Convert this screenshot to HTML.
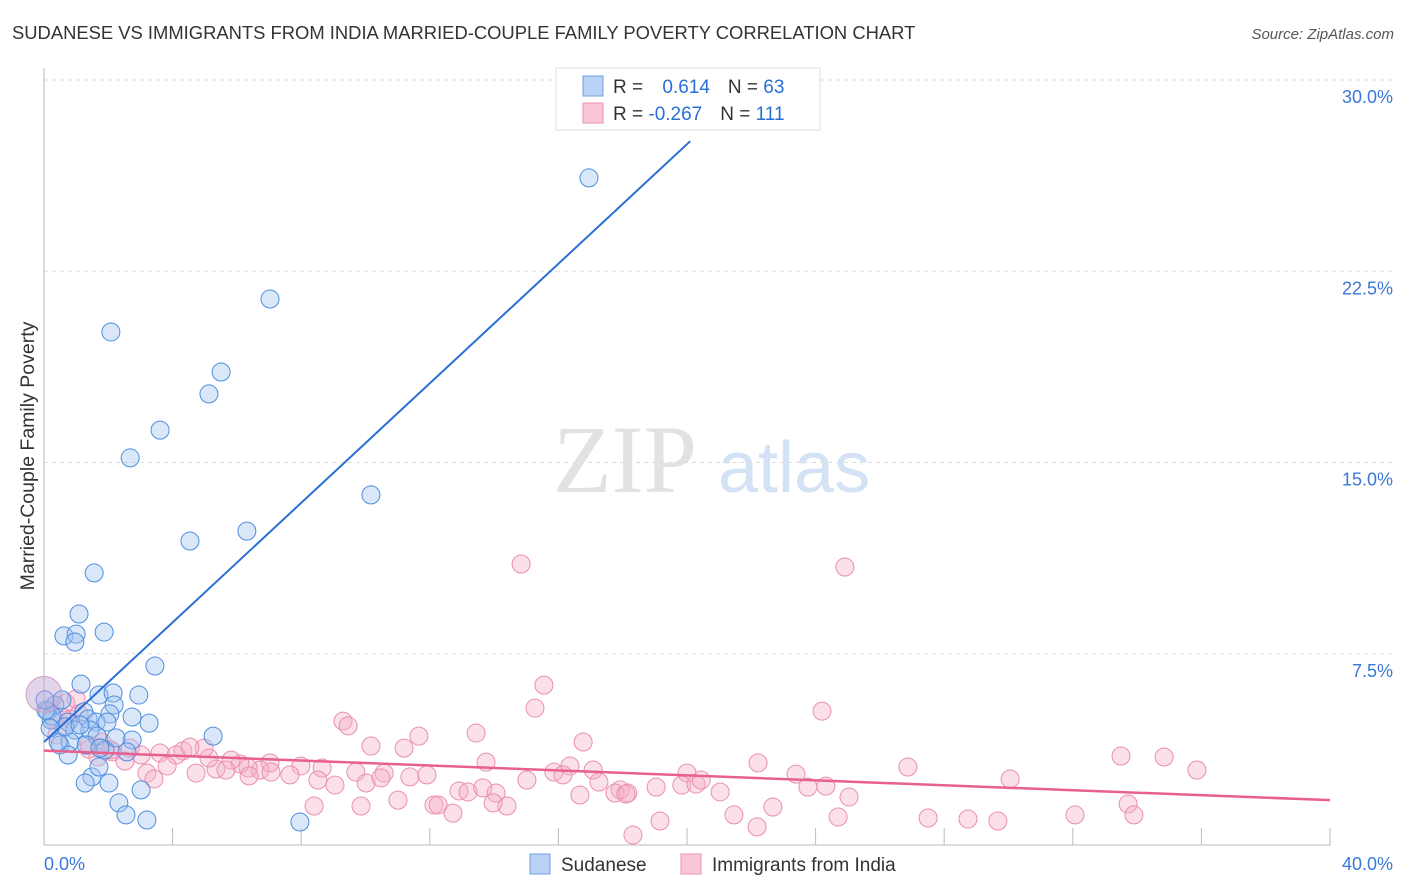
<!DOCTYPE html>
<html><head><meta charset="utf-8"><style>
body{margin:0;background:#fff;font-family:"Liberation Sans",sans-serif;}
svg{display:block}
</style></head><body>
<svg id="chart" width="1406" height="892">
<text x="12" y="39" font-size="18.4" fill="#333">SUDANESE VS IMMIGRANTS FROM INDIA MARRIED-COUPLE FAMILY POVERTY CORRELATION CHART</text>
<text x="1394" y="39" font-size="15" fill="#555" font-style="italic" text-anchor="end">Source: ZipAtlas.com</text>
<text x="34" y="456" font-size="19.5" fill="#333" text-anchor="middle" transform="rotate(-90 34 456)">Married-Couple Family Poverty</text>
<g>
<text x="553" y="492" font-size="96" fill="#e2e2e2" font-family="Liberation Serif,serif">ZIP</text>
<text x="718" y="492" font-size="72" fill="#d3e2f5">atlas</text>
</g>
<g id="grid"></g><g id="axes"></g><g id="pts"></g><g id="lines"></g>
<g>
<rect x="556" y="68" width="264" height="62" fill="#fff" stroke="#ddd"/>
<rect x="583" y="76" width="20" height="20" fill="#b9d2f5" stroke="#6e9fe0"/>
<rect x="583" y="103" width="20" height="20" fill="#f9c6d6" stroke="#ec93b1"/>
<text x="613" y="93" font-size="19" fill="#333">R = <tspan fill="#2a6fd6" dx="14">0.614</tspan><tspan dx="18" fill="#333">N = </tspan><tspan fill="#2a6fd6">63</tspan></text>
<text x="613" y="120" font-size="19" fill="#333">R = <tspan fill="#2a6fd6">-0.267</tspan><tspan dx="18" fill="#333">N = </tspan><tspan fill="#2a6fd6">111</tspan></text>
</g>
<g>
<rect x="530" y="854" width="20" height="20" fill="#b9d2f5" stroke="#6e9fe0"/>
<text x="561" y="871" font-size="19" fill="#333">Sudanese</text>
<rect x="681" y="854" width="20" height="20" fill="#f9c6d6" stroke="#ec93b1"/>
<text x="712" y="871" font-size="19" fill="#333">Immigrants from India</text>
</g>
</svg>
<script>
const yTicks=[7.5,15,22.5,30];
const yTickLabels=["7.5%","15.0%","22.5%","30.0%"];
const xTicks=[0,4,8,12,16,20,24,28,32,36,40];
const xEndLabels=["0.0%","40.0%"];
const blueX=[16.95,7.03,2.08,5.51,5.13,3.61,2.68,10.17,6.31,4.54,1.56,1.09,0.62,1.00,0.96,1.87,3.45,1.15,1.71,2.15,2.95,2.18,1.24,2.74,2.05,3.27,5.26,0.12,0.34,0.56,0.22,0.75,0.96,1.37,1.62,1.96,1.43,0.50,0.81,1.65,2.74,0.75,1.90,0.44,2.58,1.49,1.71,1.28,2.02,3.02,2.33,2.55,3.20,7.96,0.25,0.06,0.03,0.65,1.12,2.24,0.19,1.31,1.74];
const blueY=[26.16,21.41,20.12,18.55,17.69,16.27,15.18,13.73,12.31,11.92,10.67,9.06,8.20,8.27,7.96,8.35,7.02,6.31,5.88,5.96,5.88,5.49,5.22,5.02,5.14,4.78,4.27,5.25,5.49,5.69,4.90,4.82,4.51,4.94,4.82,4.82,4.51,3.92,4.04,4.27,4.12,3.53,3.73,4.04,3.65,2.67,3.06,2.43,2.43,2.16,1.65,1.18,0.98,0.90,5.06,5.29,5.69,4.63,4.71,4.20,4.59,3.92,3.80];
const pinkX=[14.84,24.91,15.55,15.27,24.20,9.30,9.46,13.44,10.17,11.20,11.66,16.77,13.75,16.36,17.08,22.21,26.87,33.50,34.84,35.86,30.05,23.39,20.00,9.70,10.58,7.99,8.65,7.03,6.72,6.35,6.10,5.82,5.35,5.13,4.98,4.32,3.61,4.11,4.54,3.02,2.68,2.12,1.74,1.40,2.52,3.20,3.42,3.83,4.73,5.66,6.38,7.06,7.65,8.52,9.05,10.02,10.48,11.38,11.91,12.91,13.19,13.65,14.06,15.02,15.86,16.14,17.26,17.92,17.76,18.16,19.04,19.84,20.28,20.44,21.03,23.76,24.32,25.04,22.67,21.46,19.16,18.32,22.18,24.70,27.50,28.74,29.67,32.07,33.72,33.90,8.40,9.86,11.01,12.13,12.26,12.72,14.40,13.97,16.67,18.10,0.68,1.00,1.80,2.08,0.31,1.40,0.81,0.56,1.09,0.40,1.68];
const pinkY=[11.02,10.90,6.27,5.37,5.25,4.86,4.67,4.39,3.88,3.80,4.27,4.04,3.25,3.10,2.94,3.22,3.06,3.49,3.45,2.94,2.59,2.78,2.82,2.86,2.82,3.10,3.02,3.22,2.94,3.02,3.18,3.33,2.98,3.41,3.80,3.69,3.61,3.53,3.84,3.53,3.80,3.65,3.84,3.76,3.29,2.82,2.59,3.10,2.82,2.94,2.71,2.86,2.75,2.55,2.35,2.43,2.63,2.67,2.75,2.12,2.08,2.24,2.04,2.55,2.86,2.75,2.47,2.16,2.04,2.04,2.27,2.35,2.39,2.55,2.08,2.27,2.31,1.88,1.49,1.18,0.94,0.39,0.71,1.10,1.06,1.02,0.94,1.18,1.61,1.18,1.53,1.53,1.76,1.57,1.57,1.25,1.53,1.65,1.96,2.00,5.57,5.73,4.04,3.73,4.90,3.92,4.94,5.02,5.14,4.31,3.45];
const blueLine=[[0,4.04],[20.1,27.6]];
const pinkLine=[[0,3.7],[40,1.76]];
const X=v=>44+v*32.15, Y=v=>845-v*25.5;
const NS="http://www.w3.org/2000/svg";
function mk(p,t,a){const e=document.createElementNS(NS,t);for(const k in a)e.setAttribute(k,a[k]);p.appendChild(e);return e;}
const grid=document.getElementById('grid'),axes=document.getElementById('axes'),pts=document.getElementById('pts'),lines=document.getElementById('lines');
yTicks.forEach((t,i)=>{
 const l=mk(grid,'line',{x1:44,x2:1394,y1:Y(t),y2:Y(t),stroke:'#ddd','stroke-dasharray':'4,4'});
 
 
 const tx=mk(axes,'text',{x:1393,y:Y(t)+23,'font-size':18,fill:'#3a78d8','text-anchor':'end'});tx.textContent=yTickLabels[i];
 
 
});
mk(axes,'line',{x1:44,x2:44,y1:68,y2:845,stroke:'#bbb'});
mk(axes,'line',{x1:44,x2:1330,y1:845,y2:845,stroke:'#bbb'});
xTicks.forEach(t=>{const l=mk(axes,'line',{x1:X(t),x2:X(t),y1:828,y2:845,stroke:'#bbb'});
 
 });
const a=mk(axes,'text',{x:44,y:870,'font-size':18,fill:'#3a78d8'});a.textContent=xEndLabels[0];


const b=mk(axes,'text',{x:1393,y:870,'font-size':18,fill:'#3a78d8','text-anchor':'end'});b.textContent=xEndLabels[1];


pinkX.forEach((v,i)=>{const c=mk(pts,'circle',{cx:X(v),cy:Y(pinkY[i]),r:9,fill:'rgba(246,176,200,0.4)',stroke:'#ea8fb0','stroke-width':1});
 
 });
blueX.forEach((v,i)=>{const c=mk(pts,'circle',{cx:X(v),cy:Y(blueY[i]),r:9,fill:'rgba(160,196,240,0.4)',stroke:'#4d8ee0','stroke-width':1});
 
 });
const big=mk(pts,'circle',{cx:X(0),cy:Y(5.9),r:18,fill:'rgba(190,160,210,0.45)',stroke:'#d49cc0'});


const bl=mk(lines,'line',{x1:X(blueLine[0][0]),y1:Y(blueLine[0][1]),x2:X(blueLine[1][0]),y2:Y(blueLine[1][1]),stroke:'#2a6fd6','stroke-width':2});


const pl=mk(lines,'line',{x1:X(pinkLine[0][0]),y1:Y(pinkLine[0][1]),x2:X(pinkLine[1][0]),y2:Y(pinkLine[1][1]),stroke:'#e8608e','stroke-width':2.5});


</script>
</body></html>
